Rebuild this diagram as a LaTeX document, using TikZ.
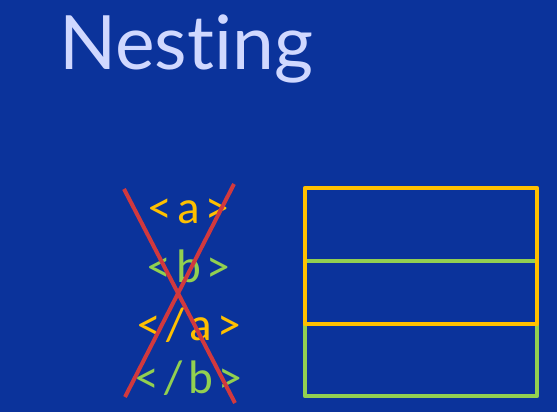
\documentclass[tikz,border=0pt]{standalone}
\usepackage{fontspec}
\setmainfont{Lato}[Ligatures={NoCommon}]
\newfontfamily\tagfont{Carlito}[LetterSpace=12]
\definecolor{slidebg}{RGB}{11,51,155}
\definecolor{titlecol}{RGB}{208,216,255}
\definecolor{tagyellow}{RGB}{255,192,0}
\definecolor{taggreen}{RGB}{146,208,80}
\definecolor{crossred}{RGB}{209,57,62}
\begin{document}
\begin{tikzpicture}[x=1pt,y=-1pt,
  tagtext/.style={inner sep=0pt,anchor=base,font=\tagfont\fontsize{47}{47}\selectfont},
  opentag/.style={tagtext,text=tagyellow},
  closetag/.style={tagtext,text=taggreen},
  crossline/.style={draw=crossred,line width=4pt},
  boxline/.style={line width=4.5pt,line join=round}]
  % background
  \fill[slidebg] (0,0) rectangle (557,412);
  \useasboundingbox (0,0) rectangle (557,412);
  % title
  \node[inner sep=0pt,anchor=base west,text=titlecol,font=\fontsize{75}{75}\selectfont] (title) at (59,70) {Nesting};
  % badly nested tags
  \node[opentag]  (ta) at (189,223) {<a>};
  \node[closetag] (tb) at (189,282) {<b>};
  \node[opentag]  (ca) at (189,340) {</a>};
  \node[closetag] (cb) at (189,393) {</b>};
  % crossing out
  \coordinate (x1a) at (124,189);
  \coordinate (x1b) at (235,403);
  \coordinate (x2a) at (234,184);
  \coordinate (x2b) at (125,397);
  \draw[crossline] (x1a) -- (x1b);
  \draw[crossline] (x2a) -- (x2b);
  % overlapping element boxes
  \draw[boxline,taggreen] (305,261) rectangle (537,396);
  \draw[boxline,tagyellow] (305,188) rectangle (537,324);
\end{tikzpicture}
\end{document}
